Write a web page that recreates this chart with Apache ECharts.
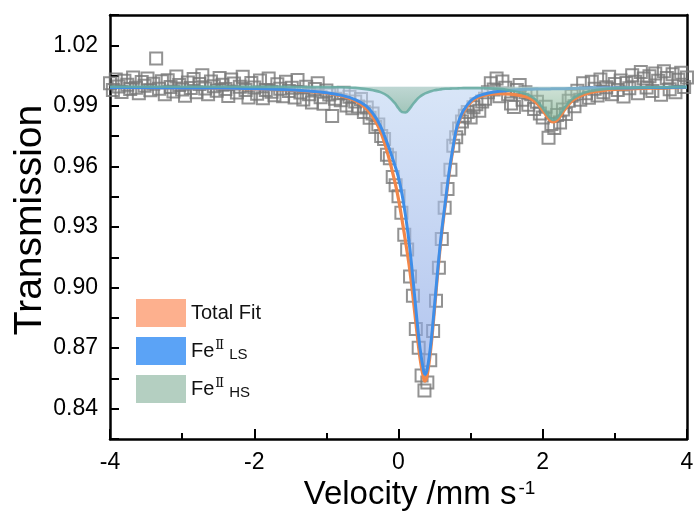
<!DOCTYPE html>
<html><head><meta charset="utf-8">
<script src="https://cdn.jsdelivr.net/npm/echarts@6/dist/echarts.min.js"></script>
<style>html,body{margin:0;padding:0;background:#fff}#c{width:697px;height:521px}</style>
</head><body><div id="c"></div>
<script>
// measured spectrum (velocity in mm/s, relative transmission)
const dataVelocity = [
-4,-3.96,-3.92,-3.88,-3.84,-3.8,-3.76,-3.72,-3.68,-3.64,
-3.6,-3.56,-3.52,-3.48,-3.44,-3.4,-3.36,-3.32,-3.28,-3.24,
-3.2,-3.16,-3.12,-3.08,-3.04,-3,-2.96,-2.92,-2.88,-2.84,
-2.8,-2.76,-2.72,-2.68,-2.64,-2.6,-2.56,-2.52,-2.48,-2.44,
-2.4,-2.36,-2.32,-2.28,-2.24,-2.2,-2.16,-2.12,-2.08,-2.04,
-2,-1.96,-1.92,-1.88,-1.84,-1.8,-1.76,-1.72,-1.68,-1.64,
-1.6,-1.56,-1.52,-1.48,-1.44,-1.4,-1.36,-1.32,-1.28,-1.24,
-1.2,-1.16,-1.12,-1.08,-1.04,-1,-0.96,-0.92,-0.88,-0.84,
-0.8,-0.76,-0.72,-0.68,-0.64,-0.6,-0.56,-0.52,-0.48,-0.44,
-0.4,-0.36,-0.32,-0.28,-0.24,-0.2,-0.16,-0.12,-0.08,-0.04,
0,0.04,0.08,0.12,0.16,0.2,0.24,0.28,0.32,0.36,
0.4,0.44,0.48,0.52,0.56,0.6,0.64,0.68,0.72,0.76,
0.8,0.84,0.88,0.92,0.96,1,1.04,1.08,1.12,1.16,
1.2,1.24,1.28,1.32,1.36,1.4,1.44,1.48,1.52,1.56,
1.6,1.64,1.68,1.72,1.76,1.8,1.84,1.88,1.92,1.96,
2,2.04,2.08,2.12,2.16,2.2,2.24,2.28,2.32,2.36,
2.4,2.44,2.48,2.52,2.56,2.6,2.64,2.68,2.72,2.76,
2.8,2.84,2.88,2.92,2.96,3,3.04,3.08,3.12,3.16,
3.2,3.24,3.28,3.32,3.36,3.4,3.44,3.48,3.52,3.56,
3.6,3.64,3.68,3.72,3.76,3.8,3.84,3.88,3.92,3.96,
4];
const dataTransmission = [
1.0012,0.9978,1.0031,0.9996,0.9969,1.0024,1.0005,0.9983,1.0041,0.9990,
0.9962,1.0018,0.9999,1.0036,0.9977,1.0009,1.0135,0.9985,1.0022,0.9957,
1.0027,0.9994,0.9971,1.0045,1.0003,0.9981,0.9950,1.0016,0.9989,1.0033,
0.9968,1.0008,1.0052,0.9986,0.9958,1.0021,0.9997,0.9975,1.0038,1.0004,
0.9983,0.9949,1.0030,1.0011,0.9966,0.9995,1.0044,0.9978,0.9942,1.0013,
0.9991,0.9960,1.0026,0.9938,0.9979,1.0035,0.9970,0.9952,1.0007,0.9985,
0.9948,1.0019,0.9973,0.9990,0.9941,1.0028,0.9966,0.9932,0.9995,0.9958,
0.9917,0.9984,1.0012,0.9943,0.9910,0.9976,0.9956,0.9850,0.9935,0.9962,
0.9928,0.9965,0.9902,0.9945,0.9888,0.9921,0.9897,0.9934,0.9869,0.9892,
0.9841,0.9862,0.9795,0.9808,0.9751,0.9736,0.9658,0.9641,0.9548,0.9507,
0.9452,0.9371,0.9262,0.9189,0.9055,0.8960,0.8795,0.8702,0.8565,0.8490,
0.8530,0.8640,0.8785,0.8935,0.9098,0.9240,0.9395,0.9488,0.9583,0.9702,
0.9745,0.9788,0.9822,0.9851,0.9870,0.9842,0.9893,0.9908,0.9876,0.9921,
0.9935,0.9968,1.0012,0.9981,1.0036,0.9947,1.0021,0.9990,0.9958,0.9912,
0.9894,0.9978,1.0003,0.9930,0.9968,0.9905,0.9958,0.9885,0.9920,0.9862,
0.9842,0.9895,0.9742,0.9810,0.9790,0.9855,0.9818,0.9882,0.9860,0.9925,
0.9950,0.9898,0.9975,0.9930,1.0012,0.9962,0.9940,1.0020,0.9985,0.9951,
1.0031,0.9968,0.9992,1.0044,0.9957,1.0008,0.9979,1.0026,0.9946,1.0013,
0.9987,1.0052,1.0019,0.9962,1.0068,1.0035,0.9991,1.0047,0.9973,1.0060,
1.0024,0.9955,1.0072,1.0038,0.9982,1.0056,0.9968,1.0029,1.0064,0.9994,
1.0041];

// fitted components
const fitVelocity = [-4,-3,-2.5,-2,-1.6,-1.3,-1,-0.8,-0.6,-0.45,-0.35,-0.25,-0.15,-0.05,0,0.05,0.1,0.15,0.2,0.25,0.3,0.35,0.37,0.4,0.45,0.5,0.55,0.6,0.65,0.7,0.75,0.8,0.85,0.9,1,1.1,1.25,1.4,1.55,1.7,1.8,1.9,2,2.05,2.1,2.15,2.2,2.25,2.3,2.4,2.5,2.65,2.85,3.1,3.5,4];
const totalFit = [0.9991,0.9989,0.9988,0.9984,0.9980,0.9973,0.9963,0.9950,0.9925,0.9888,0.9842,0.9773,0.9664,0.9523,0.9438,0.9334,0.9222,0.9104,0.8958,0.8795,0.8646,0.8547,0.8537,0.8569,0.8704,0.8894,0.9097,0.9271,0.9415,0.9558,0.9673,0.9772,0.9830,0.9870,0.9917,0.9941,0.9956,0.9961,0.9958,0.9951,0.9941,0.9919,0.9878,0.9852,0.9829,0.9820,0.9830,0.9853,0.9879,0.9922,0.9946,0.9965,0.9977,0.9983,0.9988,0.9991];
const lsFit = [0.9991,0.9989,0.9988,0.9985,0.9981,0.9975,0.9965,0.9953,0.9931,0.9900,0.9860,0.9800,0.9710,0.9605,0.9545,0.9460,0.9350,0.9215,0.9045,0.8860,0.8695,0.8584,0.8570,0.8598,0.8727,0.8912,0.9112,0.9283,0.9425,0.9568,0.9682,0.9781,0.9838,0.9877,0.9924,0.9948,0.9964,0.9972,0.9977,0.9981,0.9982,0.9983,0.9984,0.9984,0.9984,0.9985,0.9985,0.9985,0.9985,0.9986,0.9987,0.9988,0.9989,0.9989,0.9991,0.9992];
const hsFit = [0.9995,0.9995,0.9995,0.9994,0.9994,0.9993,0.9993,0.9992,0.9989,0.9983,0.9977,0.9968,0.9949,0.9913,0.9888,0.9869,0.9867,0.9884,0.9908,0.9930,0.9946,0.9958,0.9962,0.9966,0.9972,0.9977,0.9980,0.9983,0.9985,0.9985,0.9986,0.9986,0.9987,0.9988,0.9988,0.9988,0.9987,0.9984,0.9976,0.9965,0.9954,0.9931,0.9889,0.9863,0.9840,0.9830,0.9840,0.9863,0.9889,0.9931,0.9954,0.9972,0.9983,0.9989,0.9992,0.9994];
const fitBaseline = 0.9995;

const seriesNames = ['Total Fit', 'FeII LS', 'FeII HS'];
const xTickLabels = [-4, -2, 0, 2, 4];
const yTickLabels = ['0.84','0.87','0.90','0.93','0.96','0.99','1.02'];

const FONT = "'Liberation Sans', Arial, sans-serif";
const pairs = (xs, ys) => xs.map((x, i) => [x, ys[i]]);

const chart = echarts.init(document.getElementById('c'), null, {renderer: 'canvas'});
const axisLine = {show: true, onZero: false, lineStyle: {color: '#000', width: 2.5}};

chart.setOption({
  animation: false,
  backgroundColor: '#fff',
  grid: {left: 110, right: 10, top: 15, bottom: 82, containLabel: false, outerBoundsMode: 'none'},
  legend: {
    orient: 'vertical', left: 136, top: 299, padding: 0,
    itemWidth: 50, itemHeight: 28, itemGap: 10,
    data: [
      {name: seriesNames[0], icon: 'rect', itemStyle: {color: '#FDB08E', borderWidth: 0}},
      {name: seriesNames[1], icon: 'rect', itemStyle: {color: '#5BA3F6', borderWidth: 0}},
      {name: seriesNames[2], icon: 'rect', itemStyle: {color: '#B4CFC1', borderWidth: 0}}
    ],
    formatter: n => n === seriesNames[0] ? '{b|' + n + '}' : '{b|Fe}{sup|Ⅱ}{sub|' + n.split(' ')[1] + '}',
    textStyle: {
      fontFamily: FONT, fontSize: 20, color: '#111',
      rich: {
        b: {fontFamily: FONT, fontSize: 20, color: '#111', padding: [0, 0, 0, 0]},
        sup: {fontFamily: "'DejaVu Serif', 'Noto Sans CJK SC', serif", fontSize: 13, color: '#111', verticalAlign: 'top', padding: [0, 1, 10, 1]},
        sub: {fontFamily: FONT, fontSize: 15, color: '#111', verticalAlign: 'bottom', padding: [8, 0, 0, 4]}
      }
    },
    selectedMode: false
  },
  xAxis: [{
    type: 'value', min: -4, max: 4, interval: 2,
    axisLine: axisLine,
    axisTick: {show: true, inside: true, length: 10, lineStyle: {color: '#000', width: 2}},
    minorTick: {show: true, splitNumber: 2, length: 6, lineStyle: {color: '#000', width: 2}},
    axisLabel: {show: true, margin: 12, fontFamily: FONT, fontSize: 23, color: '#000',
      formatter: v => xTickLabels.includes(v) ? String(v) : ''},
    splitLine: {show: false}, minorSplitLine: {show: false},
    name: 'Velocity /mm s{sup|-1}', nameLocation: 'middle', nameGap: 33,
    nameTextStyle: {fontFamily: FONT, fontSize: 33, color: '#000', padding: [0, 0, 0, 42],
      rich: {sup: {fontFamily: FONT, fontSize: 19, color: '#000', verticalAlign: 'top', padding: [0, 0, 14, 2]}}}
  }, {
    type: 'value', min: -4, max: 4, position: 'top',
    axisLine: axisLine, axisTick: {show: false}, axisLabel: {show: false}, splitLine: {show: false}
  }],
  yAxis: [{
    type: 'value', min: 0.825, max: 1.035, interval: 0.015,
    axisLine: axisLine,
    axisTick: {show: true, inside: true, length: 9, lineStyle: {color: '#000', width: 2}},
    axisLabel: {show: true, margin: 12, fontFamily: FONT, fontSize: 23, color: '#000',
      formatter: v => { const s = v.toFixed(2); return (Math.round(v / 0.015) % 2 === 0 && yTickLabels.includes(s)) ? s : ''; }},
    splitLine: {show: false},
    name: 'Transmission', nameLocation: 'middle', nameGap: 60, nameMoveOverlap: false,
    nameTextStyle: {fontFamily: FONT, fontSize: 39, color: '#000', padding: [0, 0, 0, 14]}
  }, {
    type: 'value', min: 0.825, max: 1.035, position: 'right',
    axisLine: axisLine, axisTick: {show: false}, axisLabel: {show: false}, splitLine: {show: false}
  }],
  series: [
    {
      name: 'data', type: 'scatter', z: 1,
      data: pairs(dataVelocity, dataTransmission),
      symbol: 'rect', symbolSize: 12,
      itemStyle: {color: 'rgba(255,255,255,0)', borderColor: '#777', borderWidth: 2}
    },
    {
      name: seriesNames[0], type: 'line', z: 3, smooth: 0.35, showSymbol: false,
      data: pairs(fitVelocity, totalFit),
      lineStyle: {color: '#F2874A', width: 3.2},
      itemStyle: {color: '#FDB08E'}
    },
    {
      name: seriesNames[1], type: 'line', z: 4, smooth: 0.35, showSymbol: false,
      data: pairs(fitVelocity, lsFit),
      lineStyle: {color: '#3F8EE8', width: 3},
      itemStyle: {color: '#5BA3F6'},
      areaStyle: {origin: fitBaseline, color: new echarts.graphic.LinearGradient(0, 0, 0, 1, [
        {offset: 0, color: 'rgba(190,212,242,0.85)'},
        {offset: 1, color: 'rgba(132,162,228,0.9)'}
      ])}
    },
    {
      name: seriesNames[2], type: 'line', z: 5, smooth: 0.35, showSymbol: false,
      data: pairs(fitVelocity, hsFit),
      lineStyle: {color: 'rgba(100,170,160,0.85)', width: 2.6},
      itemStyle: {color: '#B4CFC1'},
      areaStyle: {origin: fitBaseline, color: new echarts.graphic.LinearGradient(0, 0, 0, 1, [
        {offset: 0, color: 'rgba(170,203,182,0.8)'},
        {offset: 1, color: 'rgba(118,172,138,0.9)'}
      ])}
    }
  ]
});
</script></body></html>
